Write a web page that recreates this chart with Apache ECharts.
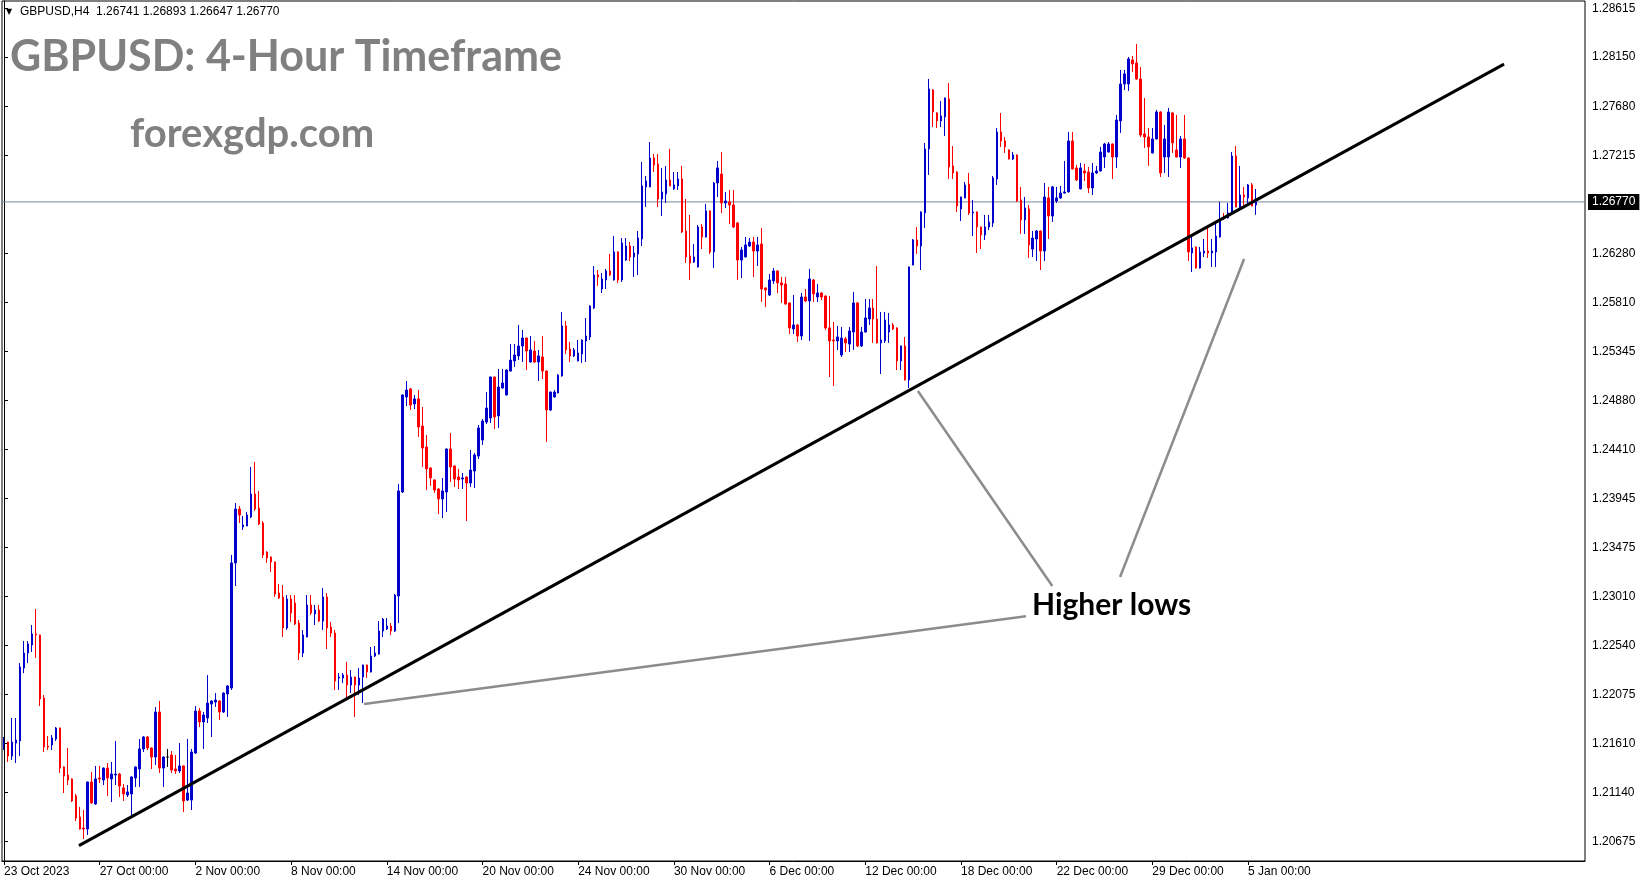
<!DOCTYPE html>
<html><head><meta charset="utf-8">
<script src="https://cdn.jsdelivr.net/npm/echarts@6/dist/echarts.min.js"></script>
<style>html,body{margin:0;padding:0;background:#fff;}#c{width:1649px;height:884px;}</style>
</head><body><div id="c"></div>
<script>
// X tick labels, one every 24 four-hour bars
const tickLabels = ['23 Oct 2023','27 Oct 00:00','2 Nov 00:00','8 Nov 00:00','14 Nov 00:00','20 Nov 00:00','24 Nov 00:00','30 Nov 00:00','6 Dec 00:00','12 Dec 00:00','18 Dec 00:00','22 Dec 00:00','29 Dec 00:00','5 Jan 00:00'];
const barsPerLabel = 24;
// Price scale labels
const priceTicks = [1.28615,1.28150,1.27680,1.27215,1.26280,1.25810,1.25345,1.24880,1.24410,1.23945,1.23475,1.23010,1.22540,1.22075,1.21610,1.21140,1.20675];
const lastPrice = 1.26770;
const headerText = 'GBPUSD,H4  1.26741 1.26893 1.26647 1.26770';

// OHLC of the GBPUSD H4 bars
const O = [
1.21612,1.21622,1.21489,1.21612,1.21632,1.22327,1.22470,1.22547,1.22652,1.22642,
1.22041,1.21584,1.21594,1.21651,1.21756,1.21384,1.21308,1.21270,1.21108,1.20907,
1.20802,1.20793,1.21241,1.21031,1.21279,1.21260,1.21374,1.21270,1.21308,1.21317,
1.21184,1.21117,1.21127,1.21279,1.21365,1.21556,1.21670,1.21565,1.21479,1.21908,
1.21374,1.21479,1.21498,1.21365,1.21346,1.21394,1.21069,1.21069,1.21517,1.21917,
1.21813,1.21851,1.21984,1.22003,1.22013,1.21908,1.22080,1.22137,1.23329,1.23843,
1.23672,1.23681,1.23767,1.23986,1.23853,1.23710,1.23433,1.23386,1.23338,1.23042,
1.23004,1.22709,1.22985,1.22947,1.22756,1.22470,1.22623,1.22928,1.22842,1.22880,
1.22775,1.23004,1.22718,1.22661,1.22232,1.22232,1.22260,1.22165,1.22241,1.22165,
1.22241,1.22356,1.22289,1.22442,1.22461,1.22680,1.22699,1.22728,1.22680,1.23014,
1.24005,1.24911,1.24987,1.24844,1.24892,1.24634,1.24434,1.24234,1.24120,1.24034,
1.23939,1.24005,1.24415,1.24253,1.24148,1.24129,1.24148,1.24091,1.24205,1.24348,
1.24501,1.24672,1.24710,1.25101,1.24730,1.24996,1.24930,1.25158,1.25254,1.25302,
1.25397,1.25473,1.25244,1.25349,1.25244,1.25292,1.25158,1.24787,1.24911,1.24949,
1.25111,1.25588,1.25368,1.25302,1.25254,1.25321,1.25445,1.25483,1.25759,1.26074,
1.25940,1.26026,1.26112,1.26026,1.26293,1.26026,1.26216,1.26350,1.26245,1.26274,
1.26417,1.26913,1.26913,1.27189,1.27132,1.26798,1.26846,1.26979,1.26894,1.26922,
1.26989,1.26493,1.26255,1.26197,1.26150,1.26531,1.26436,1.26684,1.26293,1.26951,
1.27036,1.26760,1.26770,1.26741,1.26569,1.26216,1.26245,1.26350,1.26388,1.26302,
1.26369,1.25950,1.25883,1.26017,1.26112,1.25998,1.25988,1.25807,1.25559,1.25597,
1.25492,1.25864,1.25826,1.26026,1.25864,1.25902,1.25873,1.25569,1.25454,1.25445,
1.25311,1.25464,1.25416,1.25530,1.25807,1.25397,1.25530,1.25654,1.25759,1.25654,
1.25426,1.25445,1.25530,1.25597,1.25569,1.25254,1.25397,1.25073,1.26169,1.26407,
1.26350,1.26665,1.27275,1.27837,1.27618,1.27542,1.27580,1.27751,1.27113,1.27055,
1.26703,1.26808,1.26941,1.26665,1.26674,1.26531,1.26455,1.26531,1.26569,1.26989,
1.27437,1.27351,1.27265,1.27179,1.27217,1.26789,1.26598,1.26703,1.26321,1.26417,
1.26493,1.26302,1.26808,1.26636,1.26779,1.26808,1.26855,1.26865,1.27351,1.27094,
1.26894,1.27065,1.27055,1.26903,1.27046,1.27065,1.27198,1.27246,1.27322,1.27198,
1.27542,1.27894,1.27894,1.28123,1.28095,1.27942,1.27418,1.27389,1.27237,1.27370,
1.27627,1.27198,1.27198,1.27618,1.27265,1.27198,1.27370,1.27189,1.26283,1.26341,
1.26140,1.26283,1.26302,1.26283,1.26293,1.26436,1.26627,1.26617,1.26665,1.27208,
1.26722,1.26836,1.26808,1.26932,1.26741];
const H = [
1.21670,1.21625,1.21851,1.21851,1.22375,1.22585,1.22585,1.22737,1.22890,1.22645,
1.22070,1.21679,1.21689,1.21765,1.21760,1.21390,1.21565,1.21275,1.21127,1.21003,
1.20974,1.21245,1.21336,1.21394,1.21394,1.21380,1.21422,1.21432,1.21632,1.21327,
1.21222,1.21212,1.21295,1.21390,1.21651,1.21679,1.21679,1.21570,1.21956,1.22013,
1.21485,1.21556,1.21536,1.21498,1.21612,1.21400,1.21651,1.21556,1.21965,1.21946,
1.21908,1.22260,1.22022,1.22089,1.22020,1.22095,1.22165,1.23405,1.23900,1.23872,
1.23776,1.23815,1.24244,1.24291,1.24015,1.23729,1.23440,1.23390,1.23342,1.23128,
1.23119,1.23023,1.23023,1.23023,1.22785,1.22690,1.23023,1.23023,1.22928,1.22928,
1.23090,1.23042,1.22766,1.22690,1.22279,1.22279,1.22385,1.22308,1.22245,1.22327,
1.22360,1.22360,1.22528,1.22537,1.22775,1.22804,1.22804,1.22756,1.23033,1.24082,
1.24935,1.25063,1.24996,1.24930,1.24977,1.24815,1.24548,1.24240,1.24125,1.24040,
1.24139,1.24420,1.24568,1.24258,1.24225,1.24186,1.24155,1.24405,1.24377,1.24644,
1.24701,1.24958,1.25105,1.25105,1.25178,1.25178,1.25172,1.25416,1.25416,1.25597,
1.25549,1.25478,1.25492,1.25445,1.25359,1.25492,1.25165,1.24962,1.24977,1.25130,
1.25721,1.25635,1.25435,1.25378,1.25454,1.25460,1.25664,1.25785,1.26159,1.26121,
1.26093,1.26131,1.26274,1.26445,1.26300,1.26426,1.26426,1.26388,1.26350,1.26493,
1.27151,1.27017,1.27341,1.27227,1.27227,1.27094,1.27113,1.27275,1.27055,1.27055,
1.27113,1.26798,1.26646,1.26369,1.26550,1.26560,1.26751,1.26690,1.26960,1.27160,
1.27246,1.26865,1.26884,1.26884,1.26579,1.26341,1.26436,1.26426,1.26436,1.26436,
1.26522,1.25955,1.26083,1.26140,1.26118,1.26055,1.26055,1.25812,1.25883,1.25602,
1.25902,1.25940,1.26131,1.26036,1.25988,1.25906,1.25878,1.25873,1.25626,1.25588,
1.25578,1.25483,1.25578,1.25912,1.25816,1.25578,1.25845,1.25845,1.25845,1.26159,
1.25721,1.25721,1.25711,1.25616,1.25575,1.25400,1.25483,1.26155,1.26417,1.26531,
1.26680,1.27332,1.27942,1.27845,1.27625,1.27732,1.27765,1.27904,1.27303,1.27060,
1.26820,1.26960,1.27046,1.26789,1.26680,1.26535,1.26646,1.26646,1.27017,1.27475,
1.27618,1.27389,1.27270,1.27246,1.27222,1.26913,1.26817,1.26741,1.26493,1.26502,
1.26498,1.26951,1.26913,1.26922,1.26913,1.26922,1.27160,1.27437,1.27437,1.27122,
1.27141,1.27132,1.27103,1.27141,1.27113,1.27294,1.27332,1.27341,1.27328,1.27599,
1.28028,1.28028,1.28152,1.28161,1.28276,1.28056,1.27761,1.27475,1.27475,1.27647,
1.27635,1.27504,1.27666,1.27625,1.27599,1.27399,1.27599,1.27195,1.26445,1.26345,
1.26341,1.26417,1.26531,1.26417,1.26588,1.26770,1.26665,1.26760,1.27246,1.27303,
1.27113,1.26913,1.26941,1.26951,1.26893];
const L = [
1.21546,1.21432,1.21451,1.21422,1.21489,1.22279,1.22375,1.22480,1.22423,1.21965,
1.21527,1.21546,1.21546,1.21632,1.21327,1.21136,1.21212,1.21050,1.20869,1.20788,
1.20698,1.20736,1.21035,1.21025,1.21231,1.21212,1.21108,1.21050,1.21212,1.21098,
1.21060,1.21098,1.20926,1.21193,1.21193,1.21527,1.21546,1.21365,1.21403,1.21327,
1.21193,1.21384,1.21327,1.21317,1.21327,1.20955,1.21060,1.20974,1.21508,1.21765,
1.21556,1.21803,1.21670,1.21956,1.21832,1.21899,1.21861,1.22118,1.23109,1.23710,
1.23643,1.23680,1.23757,1.23824,1.23691,1.23376,1.23329,1.23243,1.23004,1.22985,
1.22623,1.22690,1.22766,1.22737,1.22404,1.22432,1.22620,1.22833,1.22737,1.22766,
1.22690,1.22509,1.22623,1.22118,1.22118,1.22184,1.22051,1.22089,1.21861,1.22070,
1.21994,1.22232,1.22285,1.22432,1.22455,1.22623,1.22690,1.22642,1.22671,1.22756,
1.23996,1.24825,1.24787,1.24796,1.24530,1.24244,1.24024,1.24063,1.23996,1.23795,
1.23757,1.23815,1.24101,1.24053,1.24034,1.24034,1.23729,1.24053,1.24044,1.24320,
1.24453,1.24653,1.24663,1.24606,1.24615,1.24990,1.24925,1.25153,1.25197,1.25263,
1.25244,1.25168,1.25240,1.25235,1.25063,1.25082,1.24482,1.24777,1.24905,1.24945,
1.25105,1.25321,1.25244,1.25292,1.25250,1.25235,1.25244,1.25454,1.25750,1.25969,
1.25902,1.25940,1.26064,1.26020,1.25998,1.26007,1.26207,1.26207,1.26055,1.26074,
1.26350,1.26722,1.26910,1.27055,1.26722,1.26636,1.26760,1.26920,1.26884,1.26884,
1.26474,1.26188,1.26026,1.26188,1.26145,1.26321,1.26430,1.26274,1.26140,1.26817,
1.26665,1.26712,1.26560,1.26522,1.26026,1.26045,1.26240,1.26341,1.26055,1.26159,
1.25816,1.25769,1.25873,1.25988,1.25902,1.25807,1.25790,1.25511,1.25511,1.25435,
1.25454,1.25816,1.25445,1.25816,1.25816,1.25835,1.25549,1.25101,1.25016,1.25359,
1.25292,1.25340,1.25340,1.25359,1.25387,1.25387,1.25526,1.25597,1.25426,1.25420,
1.25130,1.25426,1.25426,1.25549,1.25168,1.25168,1.25068,1.24997,1.26165,1.26274,
1.26121,1.26522,1.27027,1.27484,1.27475,1.27484,1.27399,1.26989,1.26989,1.26674,
1.26588,1.26805,1.26646,1.26445,1.26283,1.26321,1.26407,1.26502,1.26531,1.26932,
1.27294,1.27237,1.27175,1.27170,1.26770,1.26465,1.26465,1.26236,1.26245,1.26207,
1.26121,1.26207,1.26417,1.26579,1.26760,1.26798,1.26850,1.26860,1.27080,1.26970,
1.26890,1.26970,1.26855,1.26836,1.27036,1.27060,1.27094,1.27240,1.26989,1.27094,
1.27427,1.27837,1.27828,1.28009,1.27932,1.27389,1.27284,1.27113,1.27230,1.27365,
1.27008,1.27046,1.27008,1.27237,1.27195,1.27094,1.27179,1.26207,1.26102,1.26135,
1.26135,1.26245,1.26236,1.26150,1.26150,1.26430,1.26598,1.26612,1.26646,1.26718,
1.26693,1.26741,1.26760,1.26728,1.26647];
const C = [
1.21622,1.21489,1.21622,1.21641,1.22337,1.22470,1.22556,1.22652,1.22642,1.22032,
1.21575,1.21575,1.21660,1.21756,1.21374,1.21298,1.21260,1.21060,1.20898,1.20793,
1.20793,1.21241,1.21041,1.21270,1.21270,1.21374,1.21279,1.21317,1.21317,1.21203,
1.21127,1.21146,1.21289,1.21384,1.21556,1.21670,1.21565,1.21479,1.21908,1.21374,
1.21479,1.21479,1.21355,1.21346,1.21394,1.21060,1.21136,1.21527,1.21917,1.21813,
1.21880,1.21994,1.22013,1.22022,1.21908,1.22089,1.22156,1.23329,1.23843,1.23786,
1.23691,1.23786,1.23986,1.23843,1.23700,1.23405,1.23376,1.23338,1.23033,1.22995,
1.22709,1.22985,1.22852,1.22747,1.22470,1.22642,1.22928,1.22852,1.22880,1.22775,
1.23004,1.22709,1.22661,1.22203,1.22241,1.22260,1.22165,1.22241,1.22165,1.22232,
1.22356,1.22289,1.22442,1.22470,1.22680,1.22794,1.22728,1.22680,1.23023,1.24015,
1.24930,1.24977,1.24834,1.24892,1.24625,1.24424,1.24225,1.24139,1.24024,1.23939,
1.24015,1.24415,1.24244,1.24129,1.24120,1.24139,1.24091,1.24215,1.24358,1.24615,
1.24682,1.24806,1.25101,1.24720,1.25006,1.25044,1.25168,1.25263,1.25311,1.25397,
1.25473,1.25349,1.25359,1.25244,1.25302,1.25158,1.24787,1.24958,1.24958,1.25120,
1.25588,1.25359,1.25302,1.25359,1.25330,1.25454,1.25492,1.25778,1.26074,1.26055,
1.26036,1.26112,1.26074,1.26293,1.26026,1.26379,1.26350,1.26245,1.26283,1.26426,
1.26922,1.26970,1.27189,1.27122,1.26798,1.26865,1.26979,1.26922,1.26932,1.26989,
1.26483,1.26245,1.26188,1.26245,1.26531,1.26436,1.26684,1.26293,1.26951,1.27094,
1.26760,1.26779,1.26741,1.26531,1.26216,1.26312,1.26360,1.26388,1.26302,1.26360,
1.25940,1.25931,1.26026,1.26112,1.25998,1.25978,1.25797,1.25569,1.25597,1.25492,
1.25864,1.25826,1.26036,1.25893,1.25902,1.25864,1.25569,1.25445,1.25445,1.25483,
1.25473,1.25426,1.25540,1.25807,1.25397,1.25530,1.25664,1.25759,1.25654,1.25426,
1.25454,1.25645,1.25597,1.25559,1.25254,1.25397,1.25073,1.26150,1.26407,1.26350,
1.26674,1.27275,1.27847,1.27627,1.27542,1.27589,1.27761,1.27103,1.27046,1.26731,
1.26817,1.26932,1.26665,1.26674,1.26531,1.26455,1.26531,1.26579,1.26998,1.27437,
1.27351,1.27294,1.27179,1.27217,1.26779,1.26598,1.26712,1.26360,1.26426,1.26493,
1.26302,1.26817,1.26636,1.26913,1.26808,1.26855,1.26865,1.27351,1.27084,1.26979,
1.27094,1.27046,1.26903,1.27046,1.27065,1.27246,1.27322,1.27322,1.27198,1.27551,
1.27894,1.27990,1.28133,1.28085,1.27942,1.27408,1.27389,1.27294,1.27370,1.27627,
1.27046,1.27370,1.27627,1.27332,1.27198,1.27370,1.27189,1.26293,1.26331,1.26140,
1.26293,1.26302,1.26283,1.26302,1.26445,1.26598,1.26617,1.26665,1.27208,1.26722,
1.26836,1.26817,1.26932,1.26731,1.26770];

// Empty bar slots to the right of the last bar (chart shift)
const futureSlots = 82;

// Drawn lines: [bar position, price]
const trendLine = [[18.8, 1.20635], [376.2, 1.28083]];
const pointerLow1 = [[256.3, 1.22821], [90.3, 1.21985]];
const pointerLow2 = [[262.9, 1.23109], [229.2, 1.24968]];
const pointerLow3 = [[279.9, 1.23195], [311.0, 1.26226]];

const totalSlots = O.length + futureSlots;
const categories = Array.from({length: totalSlots}, (_, i) => String(i));
const candles = O.map((o, i) => [o, C[i], L[i], H[i]]);
const priceLine = [[-0.5, lastPrice], [totalSlots - 0.5, lastPrice]];
const isLabelIdx = (idx) => idx % barsPerLabel === 0 && idx / barsPerLabel < tickLabels.length;

const chart = echarts.init(document.getElementById('c'), null, {renderer: 'canvas'});
const axisFont = 'Liberation Sans, Arial, sans-serif';
const lineSeries = (data, color, width, z) => ({
  type: 'line', xAxisIndex: 1, yAxisIndex: 0, data: data, symbol: 'none',
  lineStyle: {color: color, width: width}, silent: true, z: z, animation: false
});

const priceSeries = lineSeries(priceLine, '#778899', 1, 2);
priceSeries.clip = false;
priceSeries.endLabel = {
  show: true, formatter: () => lastPrice.toFixed(5), backgroundColor: '#000', color: '#fff',
  padding: [2, 4, 2, 4], fontSize: 12, fontFamily: axisFont, distance: 3
};

chart.setOption({
  animation: false,
  backgroundColor: '#fff',
  grid: {left: 2, right: 64, top: 1, bottom: 23, show: true, borderColor: '#000', borderWidth: 1, containLabel: false},
  xAxis: [{
    type: 'category', data: categories, boundaryGap: true,
    axisLine: {show: true, lineStyle: {color: '#000', width: 1}},
    axisTick: {show: true, alignWithLabel: true, interval: (idx) => isLabelIdx(idx), length: 4, lineStyle: {color: '#000'}},
    axisLabel: {interval: (idx) => isLabelIdx(idx), formatter: (v, idx) => tickLabels[idx / barsPerLabel],
      align: 'left', color: '#000', fontSize: 12, fontFamily: axisFont, margin: 5},
    splitLine: {show: false}
  }, {
    type: 'value', min: -0.5, max: totalSlots - 0.5, show: false, position: 'top'
  }],
  yAxis: [{
    type: 'value', position: 'right', min: 1.20488, max: 1.28685, scale: true,
    axisLine: {show: true, lineStyle: {color: '#000', width: 1}},
    axisTick: {show: true, length: 4, customValues: priceTicks, lineStyle: {color: '#000'}},
    axisLabel: {customValues: priceTicks, formatter: (v) => v.toFixed(5), color: '#000', fontSize: 12, fontFamily: axisFont, margin: 7},
    splitLine: {show: false}
  }],
  series: [
  priceSeries,
  {
    type: 'candlestick', data: candles, barWidth: 2,
    itemStyle: {color: '#0000CD', color0: '#FF0000', borderColor: '#0000CD', borderColor0: '#FF0000', borderColorDoji: '#000000', borderWidth: 1},
    emphasis: {disabled: true}, silent: true, z: 3
  },
  lineSeries(trendLine, '#000', 3, 6),
  lineSeries(pointerLow1, '#8c8c8c', 2.5, 5),
  lineSeries(pointerLow2, '#8c8c8c', 2.5, 5),
  lineSeries(pointerLow3, '#8c8c8c', 2.5, 5)
  ],
  graphic: [
    {type: 'text', left: 6, top: 8, style: {text: '▼', fontSize: 8, fill: '#000', fontFamily: 'DejaVu Sans'}, z: 100},
    {type: 'text', x: 20, y: 12, style: {text: headerText, fontSize: 12, fill: '#000', fontFamily: axisFont, textVerticalAlign: 'middle'}, z: 100},
    {type: 'text', x: 10, y: 57, style: {text: 'GBPUSD: 4-Hour Timeframe', fontSize: 43, fontWeight: 'bold', fill: '#808080', fontFamily: 'Lato', textVerticalAlign: 'middle'}, z: 100},
    {type: 'text', x: 130, y: 134, style: {text: 'forexgdp.com', fontSize: 40, fontWeight: 'bold', fill: '#808080', fontFamily: 'Lato', textVerticalAlign: 'middle'}, z: 100},
    {type: 'text', x: 1032, y: 605, style: {text: 'Higher lows', fontSize: 30, fontWeight: 'bold', fill: '#000', fontFamily: 'Lato', textVerticalAlign: 'middle'}, z: 100}
  ]
});
</script></body></html>
